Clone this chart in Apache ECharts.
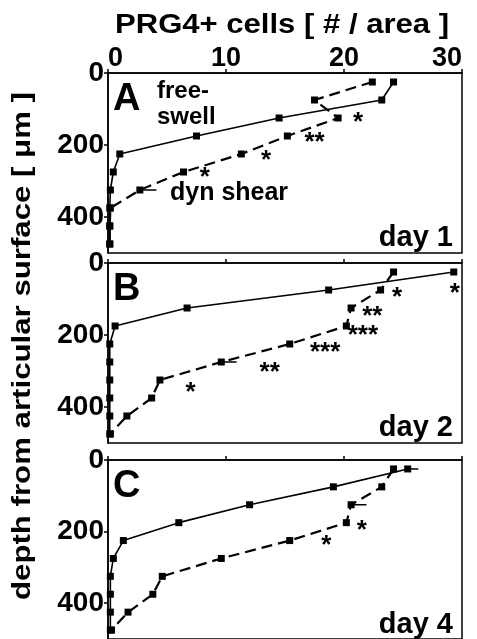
<!DOCTYPE html>
<html>
<head>
<meta charset="utf-8">
<script src="https://cdn.jsdelivr.net/npm/echarts@6/dist/echarts.min.js"></script>
<style>
html, body { margin: 0; padding: 0; background: #fff; }
#chart { width: 477px; height: 639px; }
</style>
</head>
<body>
<div id="chart"></div>
<script>
// depth of each bin (um) and PRG4+ cell counts
var depth = [25, 75, 125, 175, 225, 275, 325, 375, 425, 475];
var xTicks = [0, 10, 20, 30];
var yTicks = [0, 200, 400];

// day 1
var freeA = [24.2, 23.2, 14.5, 7.5, 1.0, 0.45, 0.2, 0.15, 0.15, 0.15];
var dynA  = [22.4, 17.5, 19.5, 15.2, 11.3, 6.4, 2.7, 0.2, 0.15, 0.15];
// day 2
var freeB = [29.3, 18.7, 6.7, 0.6, 0.15, 0.15, 0.15, 0.15, 0.15, 0.15];
var dynB  = [24.2, 23.1, 20.6, 20.2, 15.4, 9.6, 4.4, 3.7, 1.6, 0.2];
// day 4
var freeC = [25.4, 19.1, 12.0, 6.0, 1.3, 0.45, 0.2, 0.2, 0.2, 0.2];
var dynC  = [24.2, 23.2, 20.6, 20.2, 15.4, 9.6, 4.6, 3.8, 1.7, 0.3];

// visible error bars: [from, to, depth]
var errA = [[2.7, 4.1, 325]];
var errB = [[9.6, 10.9, 275]];
var errC = [[20.6, 21.9, 125], [25.4, 26.3, 25]];

// significance marks: [x, depth, text]
var starsA = [[21.2, 123, '*'], [17.5, 177, '**'], [13.4, 226, '*'], [8.2, 274, '*']];
var starsB = [[29.4, 68, '*'], [24.5, 80, '*'], [22.4, 133, '**'], [21.6, 186, '***'],
              [18.4, 232, '***'], [13.7, 288, '**'], [7.0, 343, '*']];
var starsC = [[21.5, 180, '*'], [18.5, 222, '*']];

var panels = [
  { free: freeA, dyn: dynA, err: errA, stars: starsA, letter: 'A', day: 'day 1' },
  { free: freeB, dyn: dynB, err: errB, stars: starsB, letter: 'B', day: 'day 2' },
  { free: freeC, dyn: dynC, err: errC, stars: starsC, letter: 'C', day: 'day 4' }
];
var tops = [73, 263, 460];
var font = '"Liberation Sans", Arial, sans-serif';

var chart = echarts.init(document.getElementById('chart'));

function pairs(vals) {
  return depth.map(function (d, i) { return [vals[i], d]; });
}

var grid = [], xAxis = [], yAxis = [], series = [], graphic = [];

panels.forEach(function (p, i) {
  grid.push({
    left: 108, top: tops[i], width: 354, height: 180,
    show: true, borderColor: '#000', borderWidth: 1.5
  });
  xAxis.push({
    gridIndex: i, type: 'value', position: 'top', min: 0, max: 30, interval: 10,
    axisLine: { lineStyle: { color: '#000', width: 1.5 } },
    axisTick: { show: true, length: 4, lineStyle: { color: '#000', width: 1.5 } },
    axisLabel: {
      show: i === 0, margin: 1, color: '#000', fontFamily: font, fontWeight: 'bold', fontSize: 27,
      alignMinLabel: 'left', alignMaxLabel: 'right',
      customValues: xTicks
    },
    splitLine: { show: false }
  });
  yAxis.push({
    gridIndex: i, type: 'value', inverse: true, min: 0, max: 500, interval: 200,
    axisLine: { lineStyle: { color: '#000', width: 1.5 } },
    axisTick: { show: true, length: 4, lineStyle: { color: '#000', width: 1.5 }, customValues: yTicks },
    axisLabel: {
      margin: 4, color: '#000', fontFamily: font, fontWeight: 'bold', fontSize: 28,
      customValues: yTicks
    },
    splitLine: { show: false }
  });

  series.push({
    type: 'line', name: 'free-swell', xAxisIndex: i, yAxisIndex: i,
    data: pairs(p.free), symbol: 'rect', symbolSize: 7,
    itemStyle: { color: '#000' }, lineStyle: { color: '#000', width: 1.6 },
    animation: false, z: 3
  });
  series.push({
    type: 'line', name: 'dyn shear', xAxisIndex: i, yAxisIndex: i,
    data: pairs(p.dyn), symbol: 'rect', symbolSize: 7,
    itemStyle: { color: '#000' }, lineStyle: { color: '#000', width: 2.2, type: [11, 6] },
    animation: false, z: 3
  });
  series.push({
    type: 'custom', xAxisIndex: i, yAxisIndex: i, data: p.err, animation: false, z: 2,
    renderItem: function (params, api) {
      var a = api.coord([api.value(0), api.value(2)]);
      var b = api.coord([api.value(1), api.value(2)]);
      return {
        type: 'line', shape: { x1: a[0], y1: a[1], x2: b[0], y2: b[1] },
        style: { stroke: '#000', lineWidth: 1.5 }
      };
    }
  });
  series.push({
    type: 'custom', xAxisIndex: i, yAxisIndex: i, data: p.stars, animation: false, z: 4,
    renderItem: function (params, api) {
      var c = api.coord([api.value(0), api.value(1)]);
      return {
        type: 'text', x: c[0], y: c[1] + 6,
        style: {
          text: p.stars[params.dataIndex][2], fill: '#000',
          font: 'bold 26px ' + font, align: 'center', verticalAlign: 'middle'
        }
      };
    }
  });

  graphic.push({
    type: 'text', left: 113, top: tops[i] + 8,
    style: { text: p.letter, fill: '#000', font: 'bold 38px ' + font }
  });
  graphic.push({
    type: 'text', right: 24, top: tops[i] + 150,
    style: { text: p.day, fill: '#000', font: 'bold 29px ' + font }
  });
});

graphic.push({
  type: 'text', left: 157, top: 78,
  style: { text: 'free-\nswell', fill: '#000', font: 'bold 24px ' + font, lineHeight: 26 }
});
graphic.push({
  type: 'text', left: 170, top: 181,
  style: { text: 'dyn shear', fill: '#000', font: 'bold 25px ' + font }
});
graphic.push({
  type: 'text', x: 282, y: 26, scaleX: 1.15,
  style: { text: 'PRG4+ cells [ # / area ]', fill: '#000', font: 'bold 27px ' + font,
           align: 'center', verticalAlign: 'middle' }
});
graphic.push({
  type: 'text', x: 23, y: 346, rotation: Math.PI / 2, scaleX: 1.2,
  style: { text: 'depth from articular surface [ \u03bcm ]', fill: '#000', font: 'bold 26px ' + font,
           align: 'center', verticalAlign: 'middle' }
});

chart.setOption({
  backgroundColor: '#fff',
  animation: false,
  grid: grid,
  xAxis: xAxis,
  yAxis: yAxis,
  series: series,
  graphic: graphic
});
</script>
</body>
</html>
